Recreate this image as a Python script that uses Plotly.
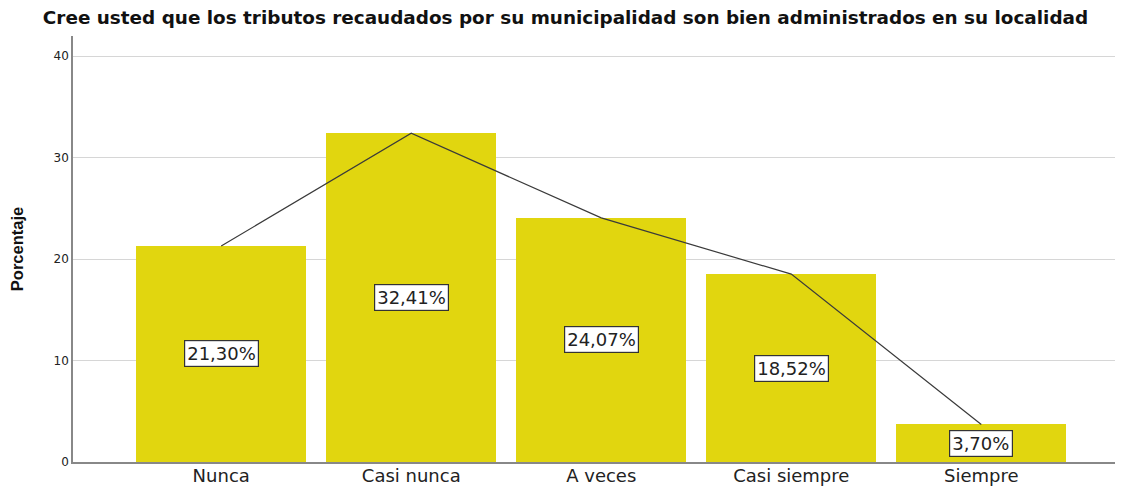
import plotly.graph_objects as go

categories = ["Nunca", "Casi nunca", "A veces", "Casi siempre", "Siempre"]
values = [21.30, 32.41, 24.07, 18.52, 3.70]
y_ticks = [0, 10, 20, 30, 40]
title = "Cree usted que los tributos recaudados por su municipalidad son bien administrados en su localidad"
y_title = "Porcentaje"

labels = [f"{v:.2f}".replace(".", ",") + "%" for v in values]
xpos = list(range(len(categories)))
FONT = "DejaVu Sans"

fig = go.Figure()
fig.add_trace(go.Bar(x=xpos, y=values, width=0.895, marker=dict(color="#E1D60F", line=dict(width=0)),
                     hoverinfo="skip", showlegend=False))
fig.add_trace(go.Scatter(x=xpos, y=values, mode="lines", line=dict(color="#3a3a3a", width=1.2),
                         hoverinfo="skip", showlegend=False))

for x, v, t in zip(xpos, values, labels):
    fig.add_annotation(x=x, y=v / 2, text=t, showarrow=False, xref="x", yref="y",
                       font=dict(family=FONT, size=18, color="#222"),
                       bgcolor="white", bordercolor="#333", borderwidth=1.2, borderpad=2)

# page body has an 8px margin, so the figure is sized/offset to compensate
fig.update_layout(
    width=1115, height=480,
    margin=dict(l=65, r=3, t=28, b=26, autoexpand=False),
    paper_bgcolor="white", plot_bgcolor="white",
    title=dict(text="<b>" + title + "</b>", x=0.5, xanchor="center", y=1 - 10 / 480, yref="container",
               yanchor="middle", font=dict(family=FONT, size=18.4, color="#111")),
    bargap=0,
)
fig.update_xaxes(range=[-0.78, 4.73], tickvals=xpos, ticktext=categories, showgrid=False,
                 showline=True, linecolor="#888", linewidth=1.5, ticks="", automargin=False,
                 ticklabelstandoff=-3,
                 tickfont=dict(family=FONT, size=18, color="#222"), zeroline=False)
fig.update_yaxes(range=[0, 42], tickvals=y_ticks, showgrid=True, gridcolor="#d6d6d6", gridwidth=1,
                 showline=True, linecolor="#888", linewidth=1.5, ticks="", zeroline=False, automargin=False,
                 tickfont=dict(family=FONT, size=12, color="#222"),
                 title=dict(text="<b>" + y_title + "</b>", standoff=28,
                            font=dict(family="Liberation Sans, Arial", size=16.5, color="#111")))

fig.write_html("out.html")
